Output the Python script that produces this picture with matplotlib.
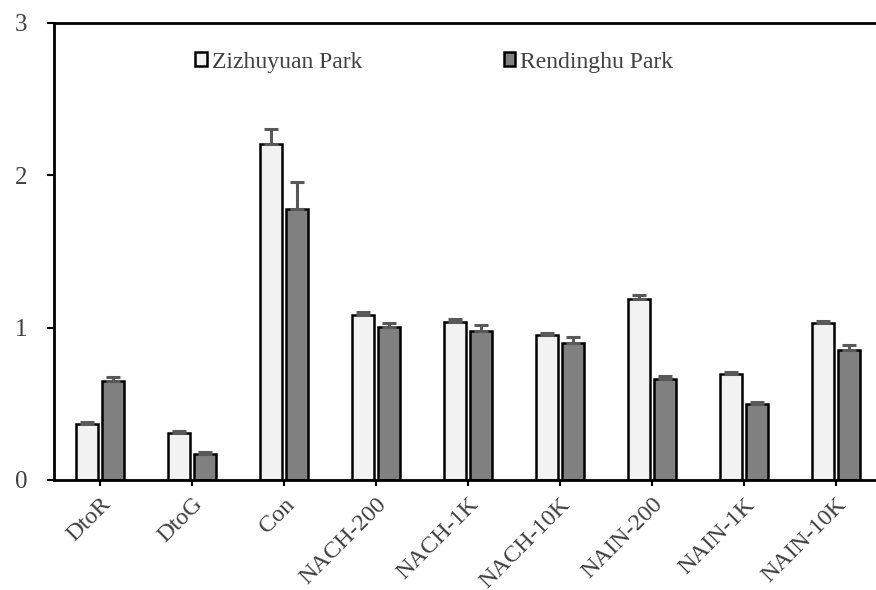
import numpy as np
import matplotlib
matplotlib.use("Agg")
import matplotlib.pyplot as plt

plt.rcParams['font.family'] = ['Liberation Serif', 'DejaVu Serif']

categories = ['DtoR', 'DtoG', 'Con', 'NACH-200', 'NACH-1K', 'NACH-10K',
              'NAIN-200', 'NAIN-1K', 'NAIN-10K']
zizhuyuan = [0.367, 0.31, 2.205, 1.083, 1.035, 0.951, 1.186, 0.698, 1.028]
zizhuyuan_err = [0.015, 0.013, 0.10, 0.018, 0.019, 0.016, 0.028, 0.013, 0.017]
rendinghu = [0.65, 0.168, 1.78, 1.002, 0.976, 0.901, 0.665, 0.497, 0.851]
rendinghu_err = [0.024, 0.016, 0.177, 0.028, 0.043, 0.039, 0.019, 0.017, 0.037]

text_color = '#404040'
fig = plt.figure(figsize=(8.76, 5.9), dpi=100)
ax = fig.add_axes([54 / 876, 1 - 480 / 590, (882 - 54) / 876, (480 - 22.7) / 590])

x = np.arange(len(categories))
w = 0.234
off = 0.143
err_kw = dict(ecolor='#595959', elinewidth=2.2, capsize=5, capthick=2.2)
ax.bar(x - off, zizhuyuan, w, color='#f2f2f2', edgecolor='black', linewidth=1.8,
       yerr=[np.zeros(len(x)), zizhuyuan_err], error_kw=err_kw, label='Zizhuyuan Park')
ax.bar(x + off, rendinghu, w, color='#808080', edgecolor='black', linewidth=1.8,
       yerr=[np.zeros(len(x)), rendinghu_err], error_kw=err_kw, label='Rendinghu Park')

ax.set_xlim(-0.5, len(categories) - 0.5)
ax.set_ylim(0, 3)
ax.set_yticks([0, 1, 2, 3])
ax.set_xticks(x)
ax.set_xticklabels(categories, rotation=45, ha='right', rotation_mode='anchor')

for s in ['left', 'bottom', 'top']:
    ax.spines[s].set_linewidth(2)
ax.spines['right'].set_visible(False)
ax.tick_params(axis='y', length=5, width=1.5, pad=14, labelsize=18, labelcolor=text_color)
ax.tick_params(axis='x', length=4, width=1.5, pad=6, labelsize=17.5, labelcolor=text_color)

leg = ax.legend(ncol=2, loc='center left', bbox_to_anchor=((195 - 54) / 828, 0.914),
                frameon=False, fontsize=17, handlelength=0.5, handleheight=0.5,
                handletextpad=0.2, columnspacing=6.0, borderpad=0, borderaxespad=0)
for t in leg.get_texts():
    t.set_color(text_color)

fig.savefig('out.png', dpi=100)
